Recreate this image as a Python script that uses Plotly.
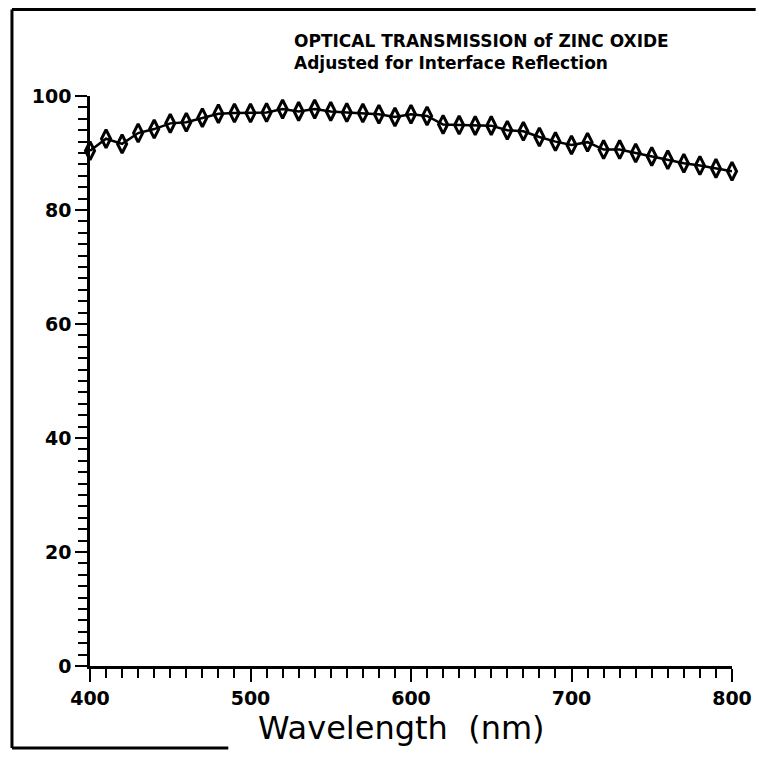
import plotly.graph_objects as go

wavelength = list(range(400, 801, 10))
transmission = [90.4, 92.5, 91.6, 93.5, 94.2, 95.2, 95.4, 96.2, 96.9, 97.0,
                97.0, 97.1, 97.7, 97.3, 97.7, 97.3, 97.1, 97.0, 96.8, 96.3,
                96.8, 96.5, 95.0, 94.9, 94.8, 94.8, 94.0, 93.8, 92.8, 92.0,
                91.4, 91.9, 90.6, 90.6, 90.0, 89.4, 88.8, 88.2, 87.8, 87.3,
                86.8]
x_ticks = [400, 500, 600, 700, 800]
y_ticks = [0, 20, 40, 60, 80, 100]
title_lines = ["OPTICAL TRANSMISSION of ZINC OXIDE", "Adjusted for Interface Reflection"]
x_title = "Wavelength  (nm)"

# page body has an 8px margin, so the figure is a bit smaller than the window
W, H = 756, 758
OFF = 8
ml, mr, mt, mb = 82, 24, 88, 100
pw, ph = W - ml - mr, H - mt - mb

def px(xs):  # screen x -> paper
    return (xs - OFF - ml) / pw

def py(ys):  # screen y -> paper
    return 1 - (ys - OFF - mt) / ph

fig = go.Figure()
fig.add_trace(go.Scatter(
    x=wavelength, y=transmission, mode="lines+markers",
    line=dict(color="black", width=2.5),
    marker=dict(symbol="diamond-tall-open", size=13, color="black",
                line=dict(color="black", width=3)),
    cliponaxis=False, showlegend=False,
))

tickfont = dict(family="DejaVu Sans", size=19, color="black", weight="bold")
fig.update_xaxes(range=[400, 800], tickvals=x_ticks, ticktext=[str(v) for v in x_ticks],
                 showline=True, linecolor="black", linewidth=2.5, showgrid=False, zeroline=False,
                 ticks="outside", ticklen=13, tickwidth=2, tickcolor="black",
                 minor=dict(dtick=10, ticks="outside", ticklen=9, tickwidth=2, tickcolor="black", showgrid=False),
                 tickfont=tickfont)
fig.update_yaxes(range=[0, 100], tickvals=y_ticks, ticktext=[str(v) for v in y_ticks],
                 showline=True, linecolor="black", linewidth=2.5, showgrid=False, zeroline=False,
                 ticks="outside", ticklen=12, tickwidth=2, tickcolor="black",
                 minor=dict(dtick=2, ticks="outside", ticklen=9, tickwidth=2, tickcolor="black", showgrid=False),
                 tickfont=tickfont)

tfont = dict(family="DejaVu Sans", size=17, color="black", weight="bold")
fig.add_annotation(text=title_lines[0], xref="paper", yref="paper", x=px(295), y=py(41),
                   xanchor="left", yanchor="middle", showarrow=False, font=tfont)
fig.add_annotation(text=title_lines[1], xref="paper", yref="paper", x=px(295), y=py(63),
                   xanchor="left", yanchor="middle", showarrow=False, font=tfont)
fig.add_annotation(text=x_title, xref="paper", yref="paper", x=px(405), y=py(728),
                   xanchor="center", yanchor="middle", showarrow=False,
                   font=dict(family="DejaVu Sans", size=32, color="black"))

# page frame
fig.add_shape(type="line", xref="paper", yref="paper", x0=px(11), x1=px(764), y0=py(9.5), y1=py(9.5),
              line=dict(color="black", width=3))
fig.add_shape(type="line", xref="paper", yref="paper", x0=px(11), x1=px(11), y0=py(9.5), y1=py(748),
              line=dict(color="black", width=3))
fig.add_shape(type="line", xref="paper", yref="paper", x0=px(11), x1=px(230), y0=py(748), y1=py(748),
              line=dict(color="black", width=3))

fig.update_layout(width=W, height=H, margin=dict(l=ml, r=mr, t=mt, b=mb),
                  plot_bgcolor="white", paper_bgcolor="white")
fig.write_html("out.html")
